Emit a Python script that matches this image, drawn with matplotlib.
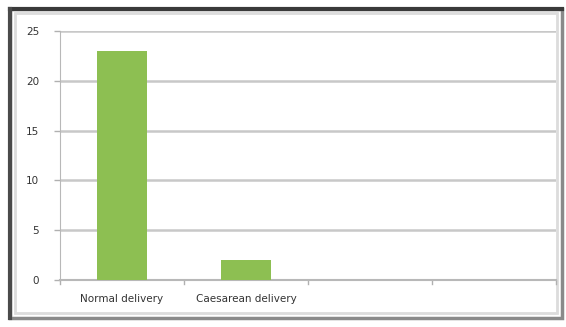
import matplotlib.pyplot as plt
from matplotlib.patches import Rectangle
from matplotlib.lines import Line2D

categories = ['Normal delivery', 'Caesarean delivery', '', '']
counts = [23, 2, None, None]
yticks = [0, 5, 10, 15, 20, 25]

fig = plt.figure(figsize=(5.66, 3.27), dpi=100)
fig.patch.set_facecolor('white')

# chart frame: grey edge, darker shadow along top and left, light inner bevel
fig.add_artist(Rectangle((0.018, 0.028), 0.975, 0.945, transform=fig.transFigure,
                         facecolor='white', edgecolor='#8a8a8a', linewidth=2.5, zorder=0))
fig.add_artist(Line2D([0.018, 0.993], [0.973, 0.973], transform=fig.transFigure,
                      color='#3a3a3a', linewidth=3, zorder=0))
fig.add_artist(Line2D([0.018, 0.018], [0.028, 0.973], transform=fig.transFigure,
                      color='#4a4a4a', linewidth=3, zorder=0))
fig.add_artist(Rectangle((0.027, 0.044), 0.957, 0.915, transform=fig.transFigure,
                         facecolor='none', edgecolor='#dcdcdc', linewidth=2, zorder=0))

ax = fig.add_axes([0.106, 0.144, 0.876, 0.761])
ax.set_facecolor('none')

xs = [i for i, v in enumerate(counts) if v is not None]
vals = [v for v in counts if v is not None]
ax.bar(xs, vals, width=0.4, color='#8dbf52', zorder=3)

ax.set_xlim(-0.5, len(categories) - 0.5)
ax.set_ylim(0, 25)
ax.set_yticks(yticks)
ax.set_xticks(range(len(categories)))
ax.set_xticklabels(categories, fontsize=7.5, color='#333333')
ax.tick_params(axis='y', labelsize=7.5, labelcolor='#333333', color='#b0b0b0',
               length=4, width=1, pad=11)
ax.tick_params(axis='x', length=0, pad=10)

# category boundary ticks
for b in [-0.5, 0.5, 1.5, 2.5, 3.5]:
    ax.plot([b, b], [0, -0.4], color='#b0b0b0', lw=1, clip_on=False, zorder=2)

ax.yaxis.grid(True, color='#c8c8c8', linewidth=1.8, zorder=1)
for side in ['top', 'right']:
    ax.spines[side].set_visible(False)
ax.spines['left'].set_color('#b8b8b8')
ax.spines['bottom'].set_color('#b8b8b8')
ax.spines['bottom'].set_linewidth(1.5)

fig.savefig('out.png', dpi=100)
